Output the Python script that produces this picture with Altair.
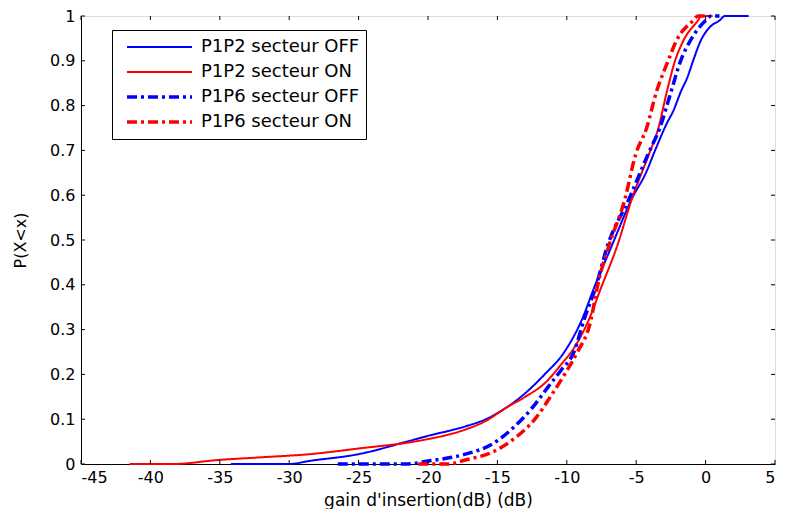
import altair as alt
import pandas as pd

series_names = ["P1P2 secteur OFF", "P1P2 secteur ON", "P1P6 secteur OFF", "P1P6 secteur ON"]

p1p2_off_x = [-34.2, -30.0, -28.5, -25.0, -21.4, -20.1, -17.3, -15.9, -14.4, -13.0, -11.6, -10.2, -8.9, -8.0,
              -6.8, -5.3, -4.3, -3.6, -2.8, -2.3, -1.8, -1.3, -0.9, -0.35, 0.3, 1.0, 1.4, 3.1]
p1p2_off_p = [0, 0, 0.007, 0.022, 0.051, 0.062, 0.084, 0.099, 0.125, 0.158, 0.20, 0.249, 0.323, 0.396,
              0.484, 0.593, 0.65, 0.703, 0.76, 0.79, 0.83, 0.864, 0.90, 0.945, 0.975, 0.99, 1.0, 1.0]

p1p2_on_x = [-41.5, -38.4, -35.1, -32.0, -28.5, -24.9, -21.4, -20.1, -17.3, -15.9, -14.4, -13.0, -11.6,
             -10.2, -9.7, -8.4, -7.5, -6.4, -5.3, -4.1, -3.4, -2.8, -2.2, -1.6, -0.55, -0.3, 0.5]
p1p2_on_p = [0, 0, 0.009, 0.015, 0.022, 0.035, 0.048, 0.055, 0.077, 0.095, 0.125, 0.15, 0.18,
             0.23, 0.249, 0.323, 0.396, 0.484, 0.593, 0.69, 0.75, 0.83, 0.90, 0.945, 0.99, 1.0, 1.0]

p1p6_off_x = [-26.5, -21.5, -20.1, -17.3, -15.4, -14.0, -12.5, -11.4, -10.4, -9.5, -8.75, -7.9, -7.1,
              -5.5, -4.1, -3.3, -2.5, -1.8, -1.1, 0.0, 0.4, 1.0]
p1p6_off_p = [0, 0, 0.006, 0.022, 0.044, 0.077, 0.125, 0.17, 0.21, 0.249, 0.323, 0.396, 0.484,
              0.593, 0.695, 0.75, 0.83, 0.90, 0.945, 0.99, 1.0, 1.0]

p1p6_on_x = [-20.7, -18.5, -17.3, -15.4, -13.7, -12.3, -11.1, -10.2, -9.25, -8.25, -7.8, -7.0, -5.8,
             -5.05, -4.25, -3.55, -2.7, -2.1, -0.9, -0.55, 0.0]
p1p6_on_p = [0, 0, 0.009, 0.026, 0.059, 0.10, 0.154, 0.198, 0.249, 0.323, 0.396, 0.484, 0.593,
             0.69, 0.75, 0.83, 0.90, 0.945, 0.99, 1.0, 1.0]

x_ticks = [-45, -40, -35, -30, -25, -20, -15, -10, -5, 0, 5]
y_ticks = [0, 0.1, 0.2, 0.3, 0.4, 0.5, 0.6, 0.7, 0.8, 0.9, 1]

colors = ["#0000ff", "#ff0000", "#0000ff", "#ff0000"]
dashes = [[1, 0], [1, 0], [10, 4, 3, 4], [10, 4, 3, 4]]
widths = [2, 2, 3.5, 3.5]

rows = []
for name, xs, ps in zip(series_names,
                        [p1p2_off_x, p1p2_on_x, p1p6_off_x, p1p6_on_x],
                        [p1p2_off_p, p1p2_on_p, p1p6_off_p, p1p6_on_p]):
    for i, (xv, pv) in enumerate(zip(xs, ps)):
        rows.append({"serie": name, "gain": xv, "p": pv, "ordre": i})
df = pd.DataFrame(rows)

W, H = 694, 448
FONT = "DejaVu Sans"

xscale = alt.Scale(domain=[-45, 5], nice=False, zero=False)
yscale = alt.Scale(domain=[0, 1], nice=False, zero=False)

legend = alt.Legend(
    title=None, orient="none", legendX=31, legendY=14,
    symbolType="stroke", symbolSize=4225, symbolOffset=7,
    labelFontSize=18, labelFont=FONT, labelColor="black", labelOffset=7,
    strokeColor="black", fillColor="white", padding=6,
    clipHeight=22, rowPadding=3, labelLimit=400,
)

lines = alt.Chart(df).mark_line(strokeCap="butt", strokeJoin="round", interpolate="monotone").encode(
    x=alt.X("gain:Q", scale=xscale,
            axis=alt.Axis(values=x_ticks, title="gain d'insertion(dB) (dB)",
                          labelExpr="datum.value + ''", ticks=False, grid=False,
                          labelPadding=5, labelFontSize=16, labelFont=FONT,
                          titleFontSize=17, titleFont=FONT, titleFontWeight="normal",
                          titleY=41, titleBaseline="alphabetic",
                          domainColor="black", labelColor="black", titleColor="black")),
    y=alt.Y("p:Q", scale=yscale,
            axis=alt.Axis(values=y_ticks, title="P(X<x)", format="~g",
                          ticks=False, grid=False, labelPadding=6,
                          labelFontSize=16, labelFont=FONT,
                          titleFontSize=16, titleFont=FONT, titleFontWeight="normal",
                          titleX=-61, titleY=H / 2, titleAngle=-90, titleAlign="center",
                          titleBaseline="middle",
                          domainColor="black", labelColor="black", titleColor="black")),
    color=alt.Color("serie:N", scale=alt.Scale(domain=series_names, range=colors), legend=legend),
    strokeDash=alt.StrokeDash("serie:N", scale=alt.Scale(domain=series_names, range=dashes), legend=legend),
    strokeWidth=alt.StrokeWidth("serie:N", scale=alt.Scale(type="ordinal", domain=series_names, range=widths),
                                legend=legend),
    order="ordre:Q",
)

xt = pd.DataFrame({"t": x_ticks})
yt = pd.DataFrame({"t": y_ticks})

tick_bottom = alt.Chart(xt).mark_rule(color="black", strokeWidth=1).encode(
    x=alt.X("t:Q", scale=xscale), y=alt.value(H), y2=alt.value(H - 4))
tick_top = alt.Chart(xt).mark_rule(color="black", strokeWidth=1).encode(
    x=alt.X("t:Q", scale=xscale), y=alt.value(0), y2=alt.value(4))
tick_left = alt.Chart(yt).mark_rule(color="black", strokeWidth=1).encode(
    y=alt.Y("t:Q", scale=yscale), x=alt.value(0), x2=alt.value(4))
tick_right = alt.Chart(yt).mark_rule(color="black", strokeWidth=1).encode(
    y=alt.Y("t:Q", scale=yscale), x=alt.value(W - 4), x2=alt.value(W))

chart = alt.layer(lines, tick_bottom, tick_top, tick_left, tick_right).properties(
    width=W, height=H,
    autosize=alt.AutoSizeParams(type="none"),
    padding={"left": 73, "top": 8, "right": 5, "bottom": 45},
    background="white",
).configure_view(stroke="black", strokeWidth=1).configure(font=FONT)

chart.save("out.html", embed_options={"renderer": "svg", "actions": False})
